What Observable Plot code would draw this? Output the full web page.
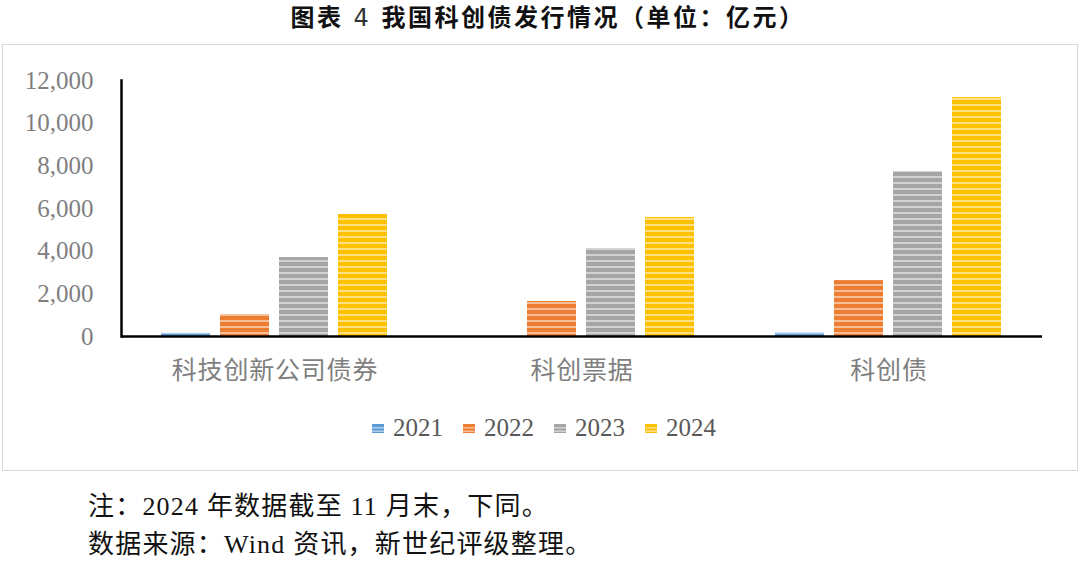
<!DOCTYPE html>
<html>
<head>
<meta charset="utf-8">
<script src="https://cdn.jsdelivr.net/npm/d3@7"></script>
<script src="https://cdn.jsdelivr.net/npm/@observablehq/plot@0.6"></script>
<style>
  html, body { margin: 0; padding: 0; background: #fff; }
  body { width: 1080px; height: 561px; position: relative; overflow: hidden; }
  #title { position: absolute; left: 0; top: 1px; width: 1080px; text-align: center; padding-left: 16px; box-sizing: border-box; white-space: nowrap;
    font-family: "Noto Sans CJK SC", sans-serif; font-weight: 700; font-size: 24px; letter-spacing: 2.5px; line-height: 30px; color: #111; }
  #title .num { font-family: "DejaVu Sans", sans-serif; font-weight: 400; margin: 0 10px; color: #333; }
  #box { position: absolute; left: 2px; top: 44px; width: 1074px; height: 425px; border: 1px solid #d9d9d9; }
  #chart { position: absolute; left: 0; top: 44px; }
  #legend { position: absolute; left: 0; top: 414px; width: 1080px; display: flex; justify-content: center; padding-left: 8px; box-sizing: border-box;
    font-family: "Liberation Serif", "Noto Sans CJK SC", serif; font-size: 25px; color: #595959; }
  #legend .item { display: flex; align-items: center; margin: 0 10px; }
  #legend svg { margin-right: 9px; }
  #caption { position: absolute; left: 88px; top: 488px; font-family: "Liberation Serif", "Noto Sans CJK SC", serif; font-size: 26px; line-height: 38px; color: #111; letter-spacing: 1.2px; }
</style>
</head>
<body>
<div id="title">图表<span class="num">4</span>我国科创债发行情况（单位：亿元）</div>
<div id="box"></div>
<div id="chart"></div>
<div id="legend"></div>
<div id="caption">注：2024 年数据截至 11 月末，下同。<br>数据来源：Wind 资讯，新世纪评级整理。</div>
<script>
const categories = ["科技创新公司债券", "科创票据", "科创债"];
const years = ["2021", "2022", "2023", "2024"];
const v2021 = [150, 0, 170];
const v2022 = [1030, 1640, 2620];
const v2023 = [3700, 4120, 7730];
const v2024 = [5720, 5580, 11200];
const yTicks = [0, 2000, 4000, 6000, 8000, 10000, 12000];
const baseColors = ["#5B9BD5", "#ED7D31", "#A5A5A5", "#FFC000"];

const seriesValues = [v2021, v2022, v2023, v2024];
const data = [];
categories.forEach((c, i) => years.forEach((y, j) => data.push({cat: c, year: y, value: seriesValues[j][i]})));

const patternIds = years.map(y => "stripe" + y);

const plot = Plot.plot({
  width: 1080,
  height: 360,
  marginTop: 36,
  marginBottom: 68,
  marginLeft: 120,
  marginRight: 37,
  style: {fontFamily: '"Liberation Serif", "Noto Sans CJK SC", serif', background: "transparent", overflow: "visible"},
  fx: {domain: categories, padding: 0, label: null},
  x: {domain: years, paddingInner: 0.167, paddingOuter: 0.647, axis: null},
  y: {domain: [0, 12000], label: null},
  color: {domain: years, range: patternIds.map(id => `url(#${id})`)},
  marks: [
    Plot.axisY({ticks: yTicks, tickFormat: d3.format(","), tickSize: 0, tickPadding: 28, fontSize: 25, color: "#7f7f7f", label: null}),
    Plot.axisFx({anchor: "bottom", tickSize: 0, tickPadding: 25, fontSize: 25, color: "#7f7f7f", label: null,
      fontFamily: '"Noto Sans CJK SC", sans-serif'}),
    Plot.barY(data, {fx: "cat", x: "year", y: "value", fill: "year"}),
    Plot.ruleY([0], {stroke: "#000", strokeWidth: 2.5}),
    Plot.frame({anchor: "left", facet: "super", stroke: "#000", strokeWidth: 2.5})
  ]
});
document.getElementById("chart").appendChild(plot);

// stripe patterns
function addDefs(svgSel) {
  const defs = svgSel.insert("defs", ":first-child");
  years.forEach((y, j) => {
    const p = defs.append("pattern").attr("id", patternIds[j]).attr("patternUnits", "userSpaceOnUse")
      .attr("width", 8).attr("height", 6);
    p.append("rect").attr("width", 8).attr("height", 6).attr("fill", baseColors[j]);
    p.append("rect").attr("y", 0).attr("width", 8).attr("height", 2).attr("fill", "#fff").attr("fill-opacity", 0.5);
  });
}
addDefs(d3.select(plot));
d3.select(plot).selectAll("[aria-label='fx-axis tick label'] text").attr("letter-spacing", "0.8px");

// legend
const legend = d3.select("#legend");
years.forEach((y, j) => {
  const item = legend.append("div").attr("class", "item");
  const s = item.append("svg").attr("width", 12).attr("height", 9);
  s.append("rect").attr("width", 12).attr("height", 9).attr("fill", baseColors[j]);
  s.append("rect").attr("y", 3).attr("width", 12).attr("height", 1.5).attr("fill", "#fff").attr("fill-opacity", 0.5);
  s.append("rect").attr("y", 6.5).attr("width", 12).attr("height", 1.5).attr("fill", "#fff").attr("fill-opacity", 0.5);
  item.append("span").text(y);
});
</script>
</body>
</html>
